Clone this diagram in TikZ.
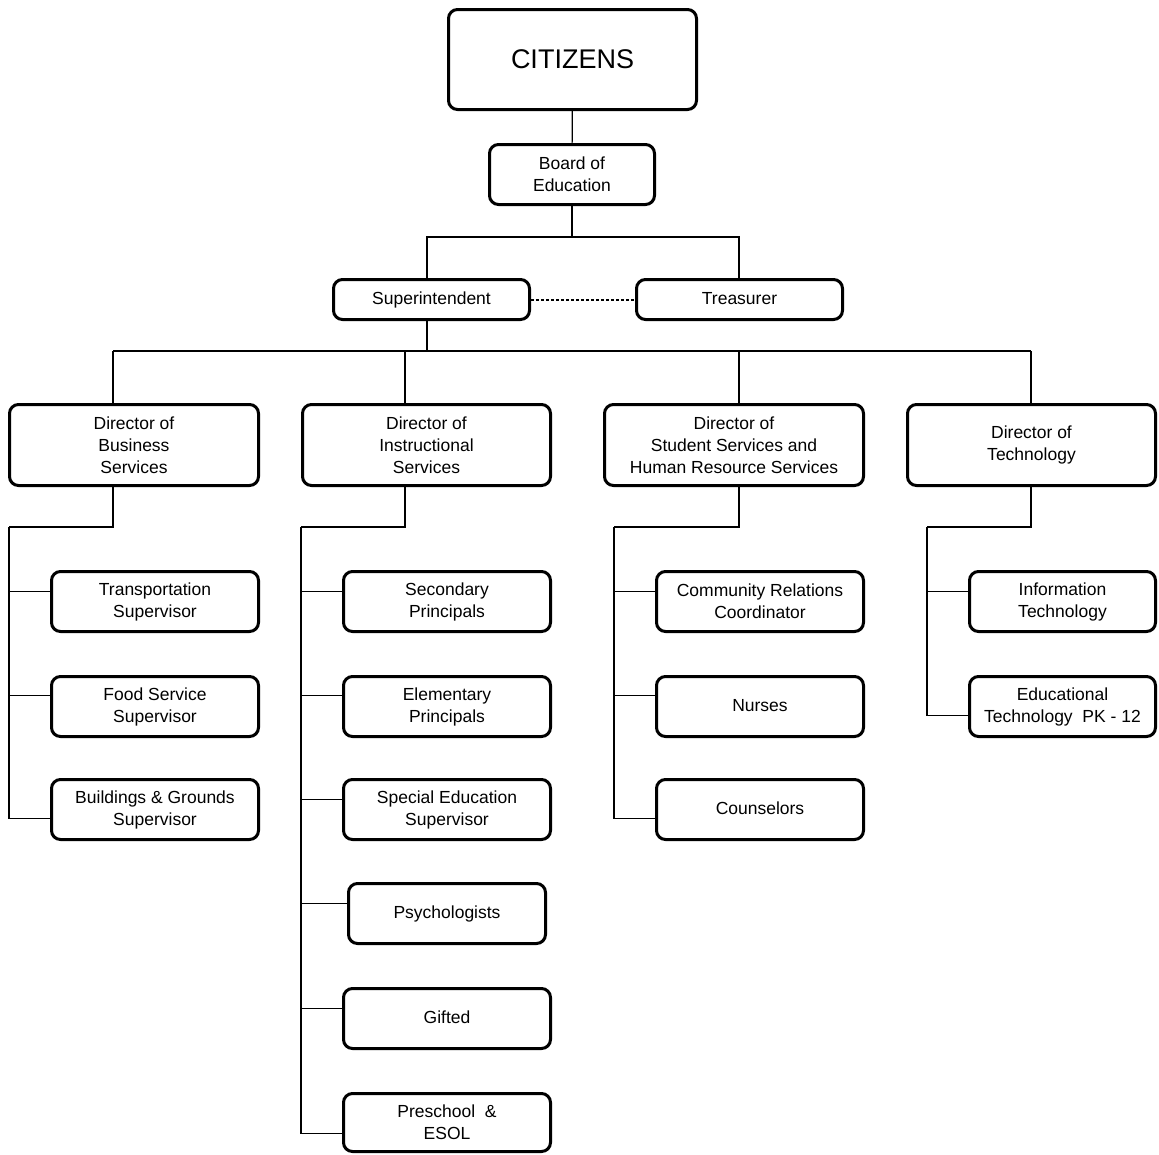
\documentclass[tikz,border=0pt]{standalone}
\usepackage{fontspec}
\setmainfont{Liberation Sans}
\usetikzlibrary{calc}
\begin{document}
\begin{tikzpicture}[x=1pt,y=-1pt,
  box/.style={draw, line width=3pt, rounded corners=9pt, inner sep=0pt, align=center,
    font=\fontsize{17.5}{22}\selectfont},
  one/.style={text height=12.5pt, text depth=3.5pt},
  kid/.style={box, minimum width=207pt, minimum height=60pt},
  dir/.style={box, minimum height=81pt},
  conn/.style={line width=1.2pt},
  link/.style={line width=2pt, dash pattern=on 3pt off 2pt}]
\useasboundingbox (0,0) rectangle (1159,1154);
% top
\node[box, minimum width=248pt, minimum height=100pt, font=\fontsize{27}{32}\selectfont] (cit) at (572.5,59.5) {CITIZENS};
\node[box, minimum width=165pt, minimum height=60pt] (board) at (572,174.5) {Board of\\Education};
\node[box, one, minimum width=196pt, minimum height=40pt] (sup) at (431.5,299.5) {Superintendent};
\node[box, one, minimum width=206pt, minimum height=40pt] (tre) at (739.5,299.5) {Treasurer};
% directors
\node[dir, minimum width=249pt] (dbus) at (134,445) {Director of\\Business\\Services};
\node[dir, minimum width=248pt] (dins) at (426.5,445) {Director of\\Instructional\\Services};
\node[dir, minimum width=259pt] (dstu) at (734,445) {Director of\\Student Services and\\Human Resource Services};
\node[dir, minimum width=248pt] (dtec) at (1031.5,445) {Director of\\Technology};
% business children
\node[kid] (trans) at (155,601.5) {Transportation\\Supervisor};
\node[kid] (food) at (155,706.5) {Food Service\\Supervisor};
\node[kid] (build) at (155,809.5) {Buildings \& Grounds\\Supervisor};
% instructional children
\node[kid] (sec) at (447,601.5) {Secondary\\Principals};
\node[kid] (elem) at (447,706.5) {Elementary\\Principals};
\node[kid] (sped) at (447,809.5) {Special Education\\Supervisor};
\node[kid, one, minimum width=197pt] (psy) at (447,913.5) {Psychologists};
\node[kid, one] (gift) at (447,1018.5) {Gifted};
\node[kid, minimum height=58pt] (pre) at (447,1122.5) {Preschool~~\&\\ESOL};
% student children
\node[kid] (comm) at (760,601.5) {Community Relations\\Coordinator};
\node[kid, one] (nurse) at (760,706.5) {Nurses};
\node[kid, one] (couns) at (760,809.5) {Counselors};
% technology children
\node[kid, minimum width=186pt] (info) at (1062.5,601.5) {Information\\Technology};
\node[kid, minimum width=186pt] (edt) at (1062.5,706.5) {Educational\\Technology~~PK - 12};
% junction coordinates
\coordinate (ja) at (427,237);
\coordinate (jb) at (739,237);
\coordinate (jc) at (427,351);
\coordinate (d1) at (113,351);
\coordinate (d2) at (405,351);
\coordinate (d3) at (739,351);
\coordinate (d4) at (1031,351);
\coordinate (bj) at (113,527); \coordinate (bv) at (9,527);
\coordinate (ij) at (405,527); \coordinate (iv) at (301,527);
\coordinate (sj) at (739,527); \coordinate (sv) at (614,527);
\coordinate (tj) at (1031,527); \coordinate (tv) at (927,527);
% connectors top
\draw[conn] (cit) -- (board);
\draw[conn] (board.south) |- (ja) -- (ja |- sup.north);
\draw[conn] (board.south) |- (jb) -- (jb |- tre.north);
\draw[link] (sup.east) -- (tre.west);
\draw[conn] (sup.south -| jc) -- (jc);
\draw[conn] (d1) -- (d4);
\draw[conn] (d1) -- (d1 |- dbus.north);
\draw[conn] (d2) -- (d2 |- dins.north);
\draw[conn] (d3) -- (d3 |- dstu.north);
\draw[conn] (d4) -- (d4 |- dtec.north);
% business
\draw[conn] (dbus.south -| bj) -- (bj) -- (bv);
\draw[conn] (bv) |- ($(trans.west)+(0,-10)$);
\draw[conn] (bv) |- ($(food.west)+(0,-11)$);
\draw[conn] (bv) |- ($(build.west)+(0,9)$);
% instructional
\draw[conn] (dins.south -| ij) -- (ij) -- (iv);
\draw[conn] (iv) |- ($(sec.west)+(0,-10)$);
\draw[conn] (iv) |- ($(elem.west)+(0,-11)$);
\draw[conn] (iv) |- ($(sped.west)+(0,-10)$);
\draw[conn] (iv) |- ($(psy.west)+(0,-10)$);
\draw[conn] (iv) |- ($(gift.west)+(0,-10)$);
\draw[conn] (iv) |- ($(pre.west)+(0,11)$);
% student
\draw[conn] (dstu.south -| sj) -- (sj) -- (sv);
\draw[conn] (sv) |- ($(comm.west)+(0,-10)$);
\draw[conn] (sv) |- ($(nurse.west)+(0,-11)$);
\draw[conn] (sv) |- ($(couns.west)+(0,9)$);
% technology
\draw[conn] (dtec.south -| tj) -- (tj) -- (tv);
\draw[conn] (tv) |- ($(info.west)+(0,-10)$);
\draw[conn] (tv) |- ($(edt.west)+(0,9)$);
\end{tikzpicture}
\end{document}
